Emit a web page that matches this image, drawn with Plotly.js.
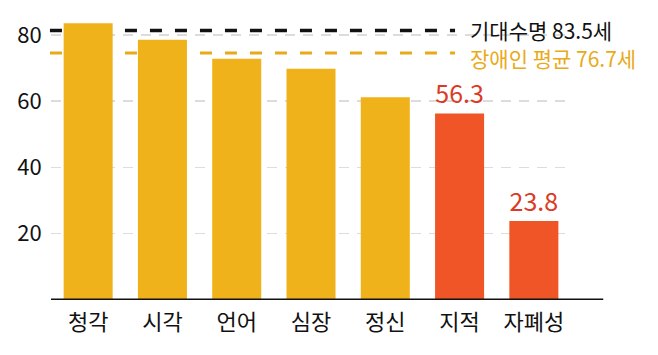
<!DOCTYPE html>
<html><head><meta charset="utf-8">
<script src="https://cdn.plot.ly/plotly-3.0.1.min.js"></script>
<style>body{margin:0;background:#fff}#chart{width:658px;height:355px}</style>
</head><body><div id="chart"></div>
<script>
const categories = ['청각','시각','언어','심장','정신','지적','자폐성'];
const values = [83.5, 78.5, 72.8, 69.8, 61.2, 56.3, 23.8];
const highlighted = [false, false, false, false, false, true, true];
const valueLabels = ['', '', '', '', '', '56.3', '23.8'];
const yTicks = [20, 40, 60, 80];
const refLabels = ['기대수명 83.5세', '장애인 평균 76.7세'];
const refLevels = [81.3, 74.5];

const FONT = '"Noto Sans CJK KR", "Noto Sans", sans-serif';
const YELLOW = '#F0B21A', RED = '#EF5527', LABELRED = '#DB3B26', REFORANGE = '#E9AA1A';
const refColors = ['#111111', REFORANGE];
const refWidths = [3.5, 3];
const refShift = [1, -5];

const trace = {
  type: 'bar', x: categories, y: values,
  marker: {color: highlighted.map(h => h ? RED : YELLOW), line: {width: 0}},
  text: valueLabels, textposition: 'outside', cliponaxis: false,
  textfont: {family: FONT, size: 25, color: LABELRED},
  hoverinfo: 'none'
};

const shapes = refLevels.map((v, i) => ({
  type: 'line', layer: 'below', xref: 'paper', yref: 'y',
  x0: -0.002, x1: 0.777, y0: v, y1: v,
  line: {color: refColors[i], width: refWidths[i], dash: '12px,13px'}
}));
shapes.push({type: 'line', layer: 'above', xref: 'paper', yref: 'y',
  x0: 0, x1: 1.062, y0: 0, y1: 0, line: {color: '#111', width: 3}});

const annotations = refLevels.map((v, i) => ({
  xref: 'paper', yref: 'y', x: 0.802, y: v, xanchor: 'left', yanchor: 'middle',
  yshift: refShift[i], height: 24, valign: 'middle',
  text: refLabels[i], showarrow: false,
  font: {family: FONT, size: 21, color: refColors[i]}
}));

const layout = {
  width: 658, height: 355,
  margin: {l: 51.4, r: 87.4, t: 5, b: 54.7},
  paper_bgcolor: '#fff', plot_bgcolor: '#fff',
  bargap: 0.34, showlegend: false,
  xaxis: {type: 'category', range: [-0.5, 6.5], showline: false, showgrid: false, zeroline: false,
    ticks: 'outside', ticklen: 3, tickcolor: 'rgba(0,0,0,0)',
    tickfont: {family: FONT, size: 22, color: '#111'}},
  yaxis: {range: [0, 89], tickvals: yTicks, ticktext: yTicks.map(String),
    showline: false, zeroline: false, showgrid: true, gridcolor: '#dcdcdc', gridwidth: 1.5, griddash: '10px,8px',
    ticks: 'outside', ticklen: 4, tickcolor: 'rgba(0,0,0,0)',
    tickfont: {family: FONT, size: 22, color: '#111'}},
  shapes: shapes, annotations: annotations
};
Plotly.newPlot('chart', [trace], layout, {staticPlot: true, displayModeBar: false});
</script></body></html>
